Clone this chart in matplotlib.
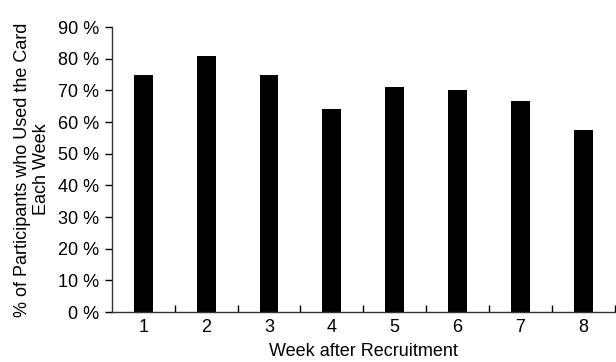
import numpy as np
import matplotlib.pyplot as plt

weeks = ["1", "2", "3", "4", "5", "6", "7", "8"]
pct_used = [75, 81, 75, 64, 71, 70, 66.7, 57.4]
y_ticks = [0, 10, 20, 30, 40, 50, 60, 70, 80, 90]

plt.rcParams['font.family'] = ['Liberation Sans', 'DejaVu Sans']

fig = plt.figure(figsize=(6.16, 3.62), dpi=100)
ax = fig.add_axes([0.1818, 0.138, 0.816, 0.787])

x = np.arange(1, len(weeks) + 1)
ax.bar(x, pct_used, width=0.3, color="black")

ax.set_xlim(0.5, len(weeks) + 0.5)
ax.set_ylim(0, 90)
ax.set_yticks(y_ticks)
ax.set_yticklabels([f"{t} %" for t in y_ticks])
ax.set_xticks(x)
ax.set_xticklabels(weeks)
ax.set_xticks(x + 0.5, minor=True)

ax.tick_params(axis="x", which="major", length=0, pad=5, labelsize=13)
ax.tick_params(axis="x", which="minor", direction="in", length=5, width=1)
ax.tick_params(axis="y", direction="out", length=5, width=1, labelsize=13, pad=4)

for side in ["top", "right"]:
    ax.spines[side].set_visible(False)
for side in ["left", "bottom"]:
    ax.spines[side].set_linewidth(1)
    ax.spines[side].set_color("#333333")

ax.set_xlabel("Week after Recruitment", fontsize=13, labelpad=5)
ax.set_ylabel("% of Participants who Used the Card\nEach Week", fontsize=13, labelpad=6,
              linespacing=1.15)

fig.savefig("out.png", dpi=100)
